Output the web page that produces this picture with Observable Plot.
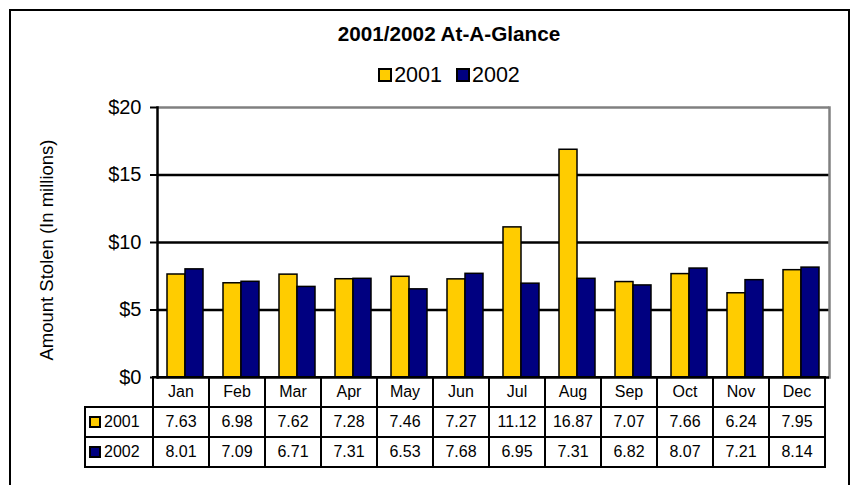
<!DOCTYPE html>
<html>
<head>
<meta charset="utf-8">
<script src="https://cdn.jsdelivr.net/npm/d3@7"></script>
<script src="https://cdn.jsdelivr.net/npm/@observablehq/plot@0.6"></script>
<style>
  html, body { margin: 0; padding: 0; background: #fff; width: 852px; height: 485px; overflow: hidden; }
  body { position: relative; font-family: Arial, "Liberation Sans", sans-serif; color: #000; }
  #frame { position: absolute; left: 9px; top: 9px; width: 841px; height: 600px; border: 2px solid #000; box-sizing: border-box; }
  #title { position: absolute; left: 0; top: 22px; width: 898px; text-align: center; font-weight: bold; font-size: 20.7px; line-height: 23px; }
  #legend { position: absolute; left: 0; top: 63px; width: 898px; text-align: center; font-size: 21.5px; line-height: 24px; }
  #legend .item { display: inline-flex; align-items: center; margin: 0 7px; }
  .sw { display: inline-block; width: 10px; height: 10px; border: 2px solid #000; margin-right: 2px; }
  #ylabel { position: absolute; left: 47px; top: 250px; transform: translate(-50%, -50%) rotate(-90deg); white-space: nowrap; font-size: 18.5px; }
  #chart { position: absolute; left: 0; top: 0; }
  #table { position: absolute; border-collapse: collapse; table-layout: fixed; font-size: 16px; }
  #table td { border: 2px solid #000; padding: 0; text-align: center; height: 28px; line-height: 28px; white-space: nowrap; overflow: hidden; }
  #table td.blank { border: none; }
  #table td.head { text-align: left; padding-left: 3px; }
  #table td.head .sw { width: 8px; height: 8px; margin-right: 3px; vertical-align: -1px; }
</style>
</head>
<body>
<div id="frame"></div>
<div id="chart"></div>
<div id="title">2001/2002 At-A-Glance</div>
<div id="legend"></div>
<div id="ylabel">Amount Stolen (In millions)</div>
<script>
const months = ["Jan", "Feb", "Mar", "Apr", "May", "Jun", "Jul", "Aug", "Sep", "Oct", "Nov", "Dec"];
const years = ["2001", "2002"];
const values2001 = [7.63, 6.98, 7.62, 7.28, 7.46, 7.27, 11.12, 16.87, 7.07, 7.66, 6.24, 7.95];
const values2002 = [8.01, 7.09, 6.71, 7.31, 6.53, 7.68, 6.95, 7.31, 6.82, 8.07, 7.21, 8.14];
const colors = ["#FFCC00", "#000080"];
const yTicks = [0, 5, 10, 15, 20];
const gridValues = [5, 10, 15];

const seriesValues = {"2001": values2001, "2002": values2002};
const data = months.flatMap((m, i) => years.map(y => ({month: m, year: y, value: seriesValues[y][i]})));

const chart = Plot.plot({
  width: 852,
  height: 485,
  marginTop: 107,
  marginBottom: 108,
  marginLeft: 153,
  marginRight: 20,
  style: {fontFamily: "Arial, 'Liberation Sans', sans-serif", fontSize: "20px", color: "#000", background: "transparent"},
  fx: {domain: months, padding: 0, axis: null},
  x: {domain: years, paddingInner: 0, paddingOuter: 0.5, axis: null},
  y: {domain: [0, 20]},
  color: {domain: years, range: colors},
  marks: [
    Plot.ruleY(gridValues, {stroke: "#000", strokeWidth: 2.5}),
    Plot.ruleY([20], {stroke: "#808080", strokeWidth: 2.5}),
    Plot.barY(data, {fx: "month", x: "year", y: "value", fill: "year", stroke: "#000", strokeWidth: 1.5}),
    Plot.frame({facet: "super", anchor: "right", stroke: "#808080", strokeWidth: 2.5}),
    Plot.frame({facet: "super", anchor: "left", stroke: "#000", strokeWidth: 2.5}),
    Plot.ruleY([0], {stroke: "#000", strokeWidth: 2.5}),
    Plot.axisY(yTicks, {tickFormat: d => "$" + d, tickSize: 7, tickPadding: 9, fontSize: 20, label: null, strokeWidth: 2})
  ]
});
document.getElementById("chart").appendChild(chart);

// legend
const legend = document.getElementById("legend");
years.forEach((y, i) => {
  const it = document.createElement("span");
  it.className = "item";
  it.innerHTML = `<span class="sw" style="background:${colors[i]}"></span>${y}`;
  legend.appendChild(it);
});

// data table aligned with the fx scale
const fx = chart.scale("fx");
const ys = chart.scale("y");
const step = fx.step;
const left0 = fx.range[0];
const headW = 68;
const table = document.createElement("table");
table.id = "table";
const cg = document.createElement("colgroup");
cg.innerHTML = `<col style="width:${headW}px">` + months.map(() => `<col style="width:${step}px">`).join("");
table.appendChild(cg);
const r0 = document.createElement("tr");
r0.innerHTML = `<td class="blank"></td>` + months.map(m => `<td>${m}</td>`).join("");
table.appendChild(r0);
years.forEach((y, i) => {
  const r = document.createElement("tr");
  r.innerHTML = `<td class="head"><span class="sw" style="background:${colors[i]}"></span>${y}</td>` +
    seriesValues[y].map(v => `<td>${v.toFixed(2)}</td>`).join("");
  table.appendChild(r);
});
table.style.left = (left0 - headW - 1) + "px";
table.style.top = (ys.apply(0) - 1) + "px";
table.style.width = (headW + step * months.length) + "px";
document.body.appendChild(table);
</script>
</body>
</html>
